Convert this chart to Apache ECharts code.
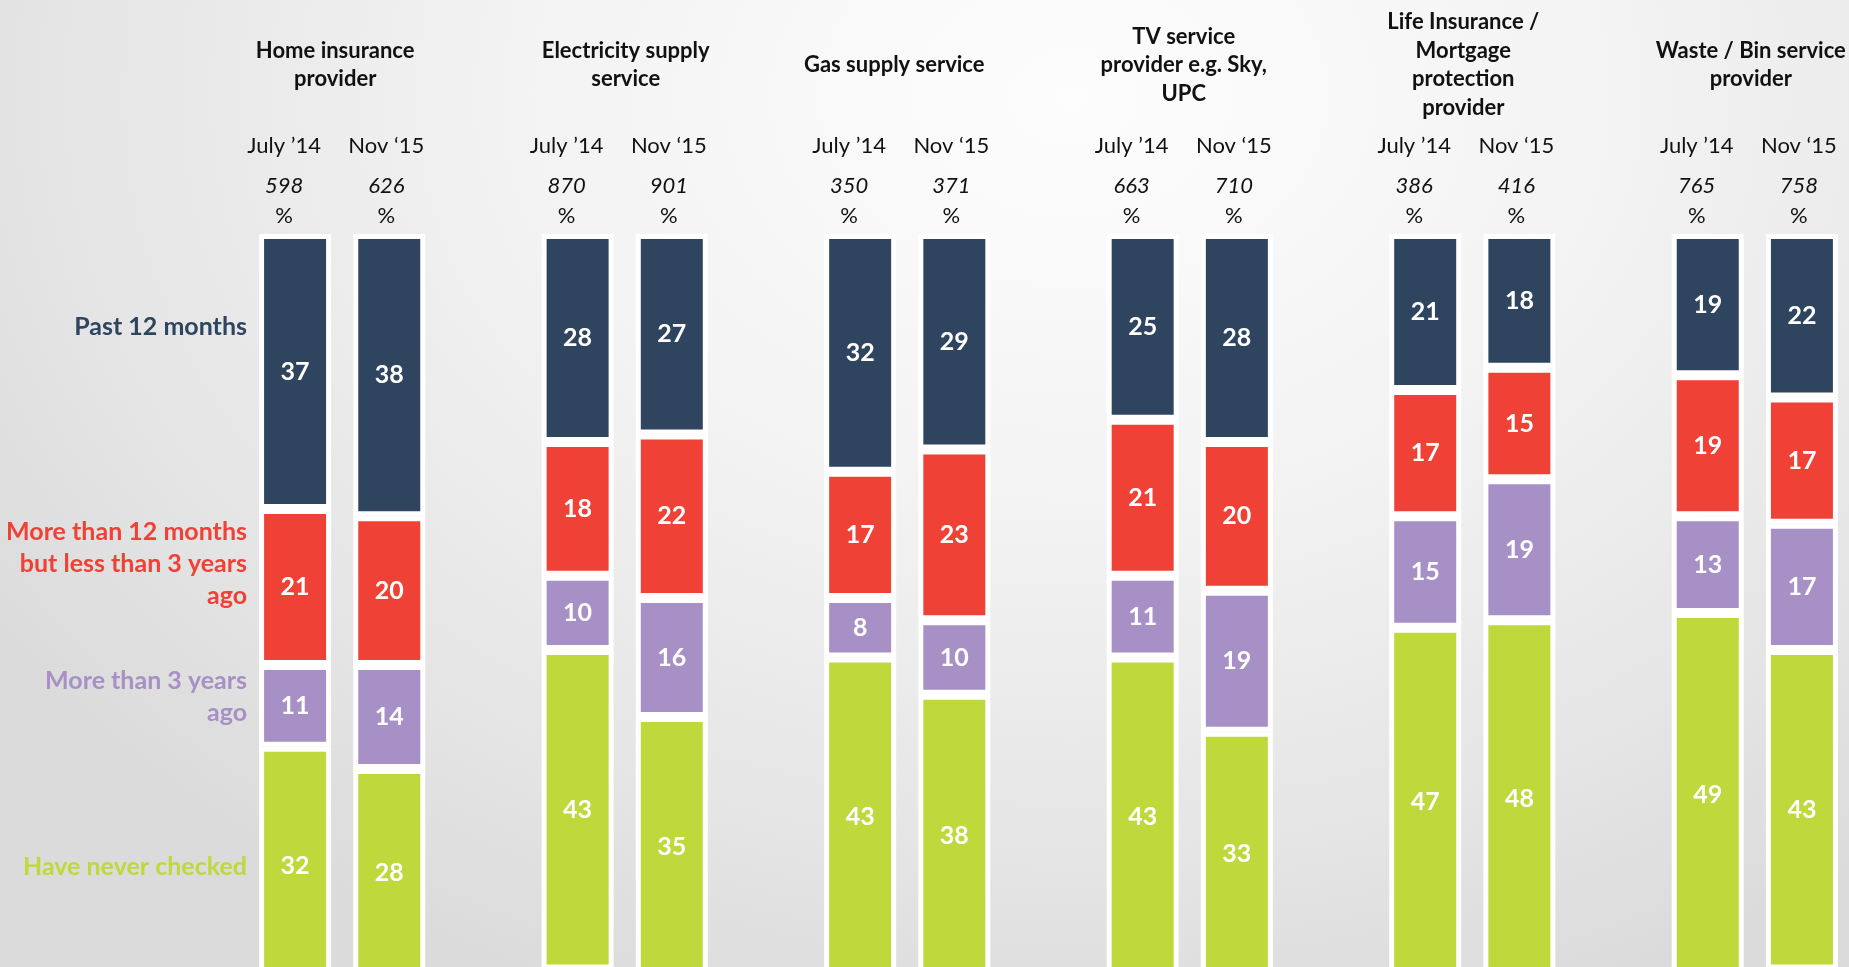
<!DOCTYPE html>
<html>
<head>
<meta charset="utf-8">
<title>Checked / switched provider</title>
<script src="https://cdn.jsdelivr.net/npm/echarts@6/dist/echarts.min.js"></script>
<style>
  html, body { margin: 0; padding: 0; width: 100%; height: 100%; overflow: hidden; }
  body {
    background: radial-gradient(ellipse 70% 100% at 58% 10%, #fdfdfd 0%, #f3f3f3 42%, #e5e5e5 78%, #dbdbdb 100%);
  }
  #chart { width: 1849px; height: 967px; }
</style>
</head>
<body>
<div id="chart"></div>
<script>
// Service groups (each has two survey waves side by side)
const groups = [
  'Home insurance\nprovider',
  'Electricity supply\nservice',
  'Gas supply service',
  'TV service\nprovider e.g. Sky,\nUPC',
  'Life Insurance /\nMortgage\nprotection\nprovider',
  'Waste / Bin service\nprovider'
];
const waves = ['July \u201914', 'Nov \u201815'];

// Base sizes per group: [July '14, Nov '15]
const baseJuly = [598, 870, 350, 663, 386, 765];
const baseNov  = [626, 901, 371, 710, 416, 758];

// Answer categories, top to bottom
const answers = [
  'Past 12 months',
  'More than 12 months\nbut less than 3 years\nago',
  'More than 3 years\nago',
  'Have never checked'
];

// Percentages, bar order: group1 July, group1 Nov, group2 July, ...
const past12     = [37, 38, 28, 27, 32, 29, 25, 28, 21, 18, 19, 22];
const over12     = [21, 20, 18, 22, 17, 23, 21, 20, 17, 15, 19, 17];
const over3yrs   = [11, 14, 10, 16,  8, 10, 11, 19, 15, 19, 13, 17];
const neverCheck = [32, 28, 43, 35, 43, 38, 43, 33, 47, 48, 49, 43];

const colors = ['#2f455f', '#ef4136', '#a690c5', '#bfd83b'];
const FONT = 'Lato, "Open Sans", sans-serif';

// Horizontal nudges (px) for the group headings
const headingNudge = [-7, 1, -13, -6, -9, -4];

// Slots on the category axis: July, Nov, spacer, July, Nov, spacer, ...
const slots = [];
const slotBar = [];   // bar index for each slot, or -1 for a spacer
groups.forEach((g, gi) => {
  slots.push('J' + gi); slotBar.push(gi * 2);
  slots.push('N' + gi); slotBar.push(gi * 2 + 1);
  if (gi < groups.length - 1) { slots.push('S' + gi); slotBar.push(-1); }
});

function toSlots(values) {
  return slotBar.map(b => (b < 0 ? '-' : values[b]));
}

function slotLabel(value, idx) {
  const b = slotBar[idx];
  if (b < 0) return '';
  const gi = Math.floor(b / 2);
  const isJuly = b % 2 === 0;
  const n = isJuly ? baseJuly[gi] : baseNov[gi];
  const k = isJuly ? 'J' : 'N';
  return '{p' + k + '|' + waves[isJuly ? 0 : 1] + '}\n{n' + k + '|' + n + '}\n{c' + k + '|%}';
}

function labelStyle(extra, padRight) {
  return Object.assign({
    fontFamily: FONT, fontSize: 22, color: '#111', align: 'center',
    padding: [0, padRight, 0, 0]
  }, extra);
}

const seriesValues = [past12, over12, over3yrs, neverCheck];

const chart = echarts.init(document.getElementById('chart'), null, { renderer: 'canvas' });

chart.setOption({
  backgroundColor: 'transparent',
  animation: false,
  // the bars run on past the bottom edge of the page
  grid: { left: 248, right: 0, top: 234, height: 743, containLabel: false, outerBoundsMode: 'none' },
  xAxis: {
    type: 'category',
    data: slots,
    position: 'top',
    axisLine: { show: false },
    axisTick: { show: false },
    splitLine: { show: false },
    axisLabel: {
      interval: 0,
      margin: 3,
      formatter: slotLabel,
      rich: {
        pJ: labelStyle({ lineHeight: 50 }, 22),
        nJ: labelStyle({ lineHeight: 30, fontStyle: 'italic' }, 22),
        cJ: labelStyle({ lineHeight: 30 }, 22),
        pN: labelStyle({ lineHeight: 50 }, 6),
        nN: labelStyle({ lineHeight: 30, fontStyle: 'italic' }, 6),
        cN: labelStyle({ lineHeight: 30 }, 6)
      }
    }
  },
  yAxis: {
    type: 'value',
    inverse: true,
    min: 0,
    max: 100,
    show: false,
    splitLine: { show: false }
  },
  series: answers.map((name, i) => ({
    name: name,
    type: 'bar',
    stack: 'share',
    barWidth: 72,
    clip: false,
    data: toSlots(seriesValues[i]),
    itemStyle: { color: colors[i], borderColor: '#ffffff', borderWidth: 5 },
    label: {
      show: true,
      position: 'inside',
      color: '#ffffff',
      fontFamily: FONT,
      fontWeight: 'bold',
      fontSize: 25
    }
  }))
});

// Group headings centred over each pair of bars, answer labels on the left
const headingY = 65;
const answerY = [327, 564, 697, 867];
const graphics = [];
groups.forEach((g, gi) => {
  const xJ = chart.convertToPixel({ xAxisIndex: 0 }, slots.indexOf('J' + gi));
  const xN = chart.convertToPixel({ xAxisIndex: 0 }, slots.indexOf('N' + gi));
  graphics.push({
    type: 'text',
    x: (xJ + xN) / 2 + headingNudge[gi],
    y: headingY,
    style: {
      text: g,
      align: 'center',
      verticalAlign: 'middle',
      fontFamily: FONT,
      fontWeight: 'bold',
      fontSize: 22,
      lineHeight: 28.5,
      fill: '#111'
    }
  });
});
answers.forEach((a, i) => {
  graphics.push({
    type: 'text',
    x: 247,
    y: answerY[i],
    style: {
      text: a,
      align: 'right',
      verticalAlign: 'middle',
      fontFamily: FONT,
      fontWeight: 'bold',
      fontSize: 25,
      lineHeight: 32,
      fill: colors[i]
    }
  });
});
chart.setOption({ graphic: graphics });
</script>
</body>
</html>
